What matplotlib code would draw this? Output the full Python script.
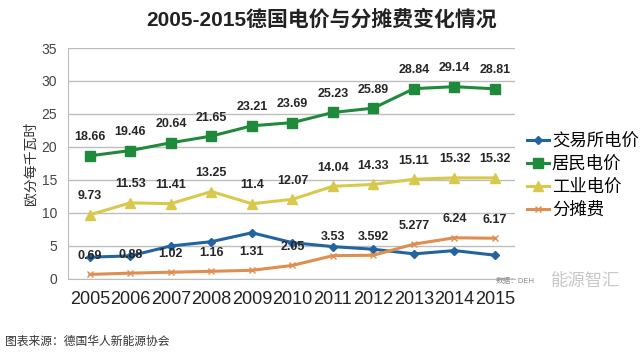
import matplotlib.pyplot as plt

plt.rcParams['font.family'] = ['Liberation Sans', 'Noto Sans CJK SC', 'DejaVu Sans']

years = [2005, 2006, 2007, 2008, 2009, 2010, 2011, 2012, 2013, 2014, 2015]
exchange = [3.3, 3.5, 5.0, 5.65, 7.0, 5.5, 4.9, 4.5, 3.8, 4.3, 3.6]
household = [18.66, 19.46, 20.64, 21.65, 23.21, 23.69, 25.23, 25.89, 28.84, 29.14, 28.81]
industry = [9.73, 11.53, 11.41, 13.25, 11.4, 12.07, 14.04, 14.33, 15.11, 15.32, 15.32]
levy = [0.69, 0.88, 1.02, 1.16, 1.31, 2.05, 3.53, 3.592, 5.277, 6.24, 6.17]
levy_labels = ["0.69", "0.88", "1.02", "1.16", "1.31", "2.05", "3.53", "3.592", "5.277", "6.24", "6.17"]
household_labels = ["18.66", "19.46", "20.64", "21.65", "23.21", "23.69", "25.23", "25.89", "28.84", "29.14", "28.81"]
industry_labels = ["9.73", "11.53", "11.41", "13.25", "11.4", "12.07", "14.04", "14.33", "15.11", "15.32", "15.32"]

blue = "#22649F"
green = "#1F8A3B"
yellow = "#D8C94C"
orange = "#DE8E50"

fig = plt.figure(figsize=(6.44, 3.54), dpi=100)
ax = fig.add_axes([0.1056, 0.212, 0.6944, 0.6524])

ax.plot(years, exchange, color=blue, lw=2.2, marker="D", ms=4.5, label="交易所电价", zorder=3)
ax.plot(years, household, color=green, lw=2.2, marker="s", ms=6.5, label="居民电价", zorder=3)
ax.plot(years, industry, color=yellow, lw=2.2, marker="^", ms=6.5, label="工业电价", zorder=3)
ax.plot(years, levy, color=orange, lw=2.2, marker="x", ms=5, mew=1, label="分摊费", zorder=3)

# data labels above points
for vals, labs in [(household, household_labels), (industry, industry_labels), (levy, levy_labels)]:
    for x, v, s in zip(years, vals, labs):
        ax.annotate(s, (x, v), xytext=(0, 9), textcoords="offset points",
                    ha="center", va="bottom", fontsize=9, fontweight="bold", color="#262626")

ax.set_xlim(2004.46, 2015.5)
ax.set_ylim(0, 35)
ax.set_yticks(range(0, 36, 5))
ax.set_xticks(years)
ax.set_xticklabels([str(y) for y in years], fontsize=13, color="#222222")
ax.tick_params(axis="y", labelsize=10, colors="#444444", length=0, pad=8)
ax.tick_params(axis="x", length=0, pad=9)
ax.grid(axis="y", color="#BDBDBD", lw=1)
ax.set_axisbelow(True)
for side in ["top", "right"]:
    ax.spines[side].set_visible(False)
ax.spines["left"].set_color("#BDBDBD")
ax.spines["bottom"].set_color("#BDBDBD")
ax.set_ylabel("欧分每千瓦时", fontsize=10, color="#333333", labelpad=3)

fig.legend(loc="center left", bbox_to_anchor=(0.818, 0.505), frameon=False,
           fontsize=12.5, handlelength=1.3, handletextpad=0.15, labelspacing=0.38,
           borderpad=0, borderaxespad=0)

fig.text(0.5, 0.945, "2005-2015德国电价与分摊费变化情况", ha="center", va="center",
         fontsize=15, fontweight="bold", color="#222222")
fig.text(0.008, 0.035, "图表来源：德国华人新能源协会", ha="left", va="center",
         fontsize=8.5, color="#333333")
fig.text(0.77, 0.205, "数据：DEH", ha="left", va="center", fontsize=5.5, color="#888888")
fig.text(0.855, 0.205, "能源智汇", ha="left", va="center", fontsize=12.5, color="#C8C8C8")

fig.savefig("out.png", dpi=100)
